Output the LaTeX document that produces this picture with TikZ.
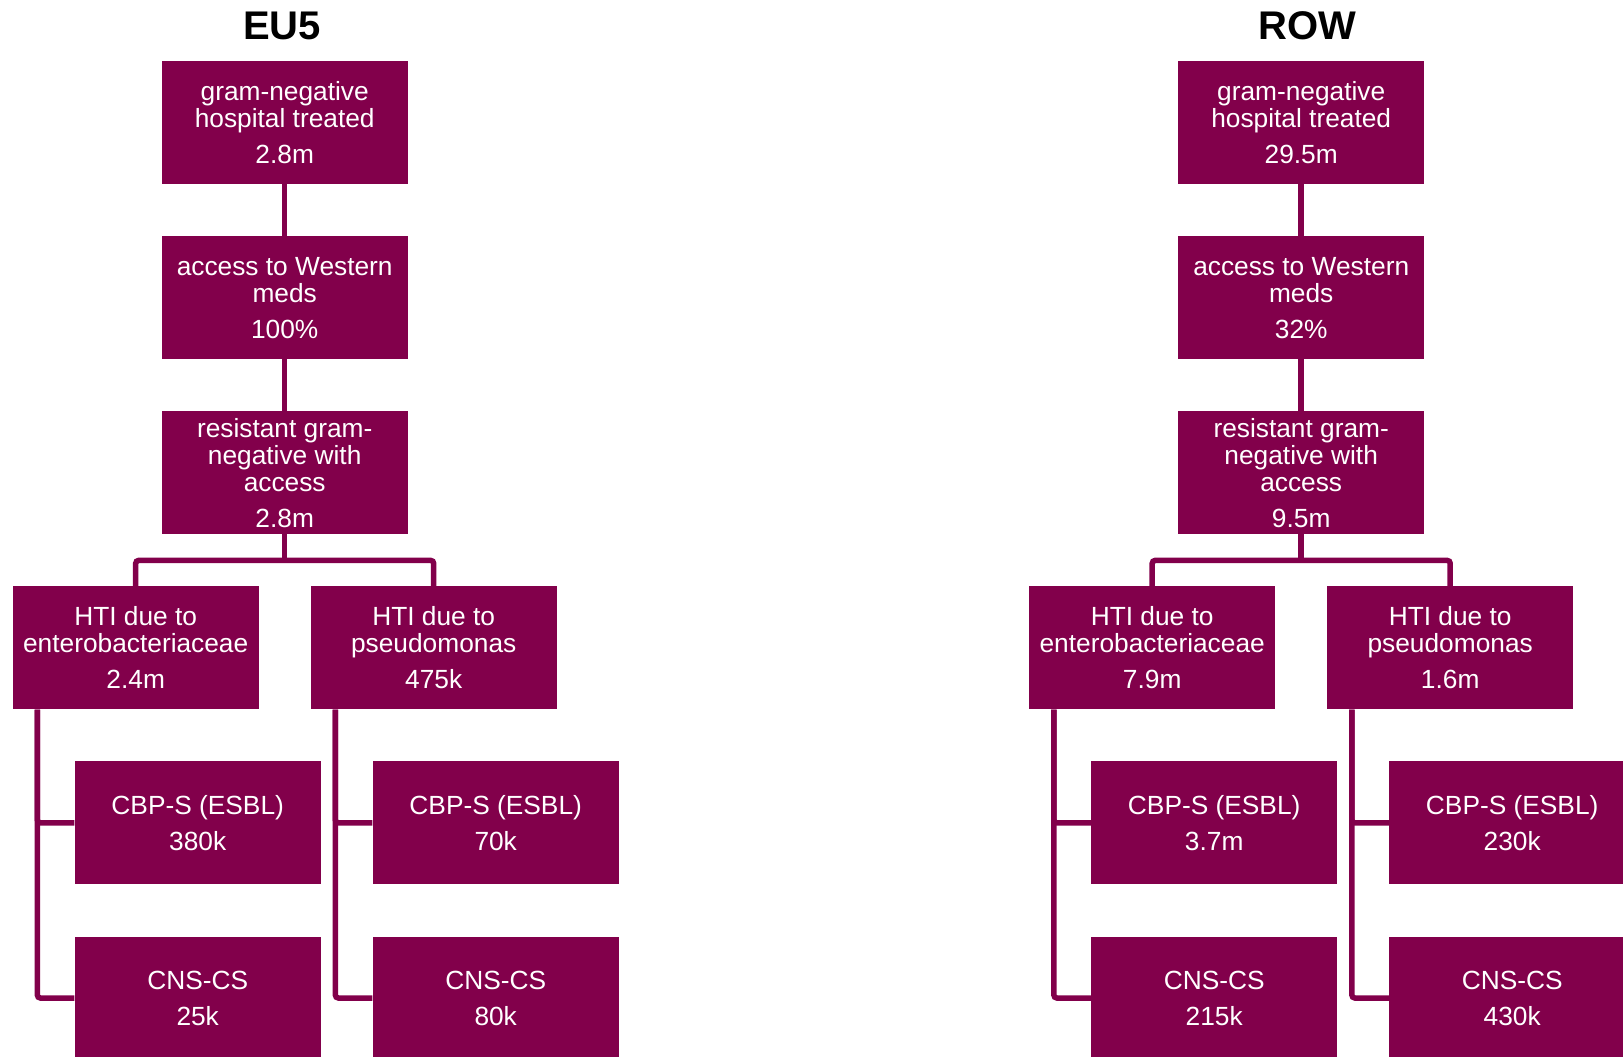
\documentclass[tikz,border=0pt]{standalone}
\usepackage{fontspec}
\setmainfont{Liberation Sans}
\usepackage{tikz}
\usetikzlibrary{positioning}
\definecolor{plum}{RGB}{130,0,75}

\begin{document}
\begin{tikzpicture}[
		x=1pt, y=1pt
		,box/.style={fill=plum, text=white, inner sep=0pt, minimum width=246.3pt, minimum height=123pt, align=center, font=\fontsize{26.3}{27}\selectfont}
		,link/.style={draw=plum, line width=5.5pt, rounded corners=3pt}
		,region/.style={font=\fontsize{40}{42}\selectfont\bfseries}
	]
		\useasboundingbox (0,0) rectangle (1623,-1057);

		% EU5
		\node [region] (eTitle) at (282,-25.5) {EU5};
		\node [box] (eTop) at (284.7,-122.5) {gram-negative\\hospital treated\\[9pt]2.8m};
		\node [box, below=51.7pt of eTop] (eAccess) {access to Western\\meds\\[9pt]100\%};
		\node [box, below=51.7pt of eAccess] (eRes) {resistant gram-\\negative with\\access\\[9pt]2.8m};
		\node [box, below=51.7pt of eRes, xshift=-149pt] (eEntero) {HTI due to\\enterobacteriaceae\\[9pt]2.4m};
		\node [box, below=51.7pt of eRes, xshift=149pt] (ePseudo) {HTI due to\\pseudomonas\\[9pt]475k};
		\node [box, below=51.7pt of eEntero, xshift=62pt] (eEnCbp) {CBP-S (ESBL)\\[9pt]380k};
		\node [box, below=51.7pt of eEnCbp] (eEnCns) {CNS-CS\\[9pt]25k};
		\node [box, below=51.7pt of ePseudo, xshift=62pt] (ePsCbp) {CBP-S (ESBL)\\[9pt]70k};
		\node [box, below=51.7pt of ePsCbp] (ePsCns) {CNS-CS\\[9pt]80k};
		\coordinate [below=26pt of eRes.south] (eFork);

		\draw [link] (eTop) -- (eAccess);
		\draw [link] (eAccess) -- (eRes);
		\draw [link] (eRes) -- (eFork);
		\draw [link] (eEntero) |- (eFork) -| (ePseudo);
		\draw [link] ([xshift=25pt]eEntero.south west) |- (eEnCbp.west);
		\draw [link] ([xshift=25pt]eEntero.south west) |- (eEnCns.west);
		\draw [link] ([xshift=25pt]ePseudo.south west) |- (ePsCbp.west);
		\draw [link] ([xshift=25pt]ePseudo.south west) |- (ePsCns.west);

		% ROW
		\node [region] (rTitle) at (1307.5,-25.5) {ROW};
		\node [box] (rTop) at (1301.2,-122.5) {gram-negative\\hospital treated\\[9pt]29.5m};
		\node [box, below=51.7pt of rTop] (rAccess) {access to Western\\meds\\[9pt]32\%};
		\node [box, below=51.7pt of rAccess] (rRes) {resistant gram-\\negative with\\access\\[9pt]9.5m};
		\node [box, below=51.7pt of rRes, xshift=-149pt] (rEntero) {HTI due to\\enterobacteriaceae\\[9pt]7.9m};
		\node [box, below=51.7pt of rRes, xshift=149pt] (rPseudo) {HTI due to\\pseudomonas\\[9pt]1.6m};
		\node [box, below=51.7pt of rEntero, xshift=62pt] (rEnCbp) {CBP-S (ESBL)\\[9pt]3.7m};
		\node [box, below=51.7pt of rEnCbp] (rEnCns) {CNS-CS\\[9pt]215k};
		\node [box, below=51.7pt of rPseudo, xshift=62pt] (rPsCbp) {CBP-S (ESBL)\\[9pt]230k};
		\node [box, below=51.7pt of rPsCbp] (rPsCns) {CNS-CS\\[9pt]430k};
		\coordinate [below=26pt of rRes.south] (rFork);

		\draw [link] (rTop) -- (rAccess);
		\draw [link] (rAccess) -- (rRes);
		\draw [link] (rRes) -- (rFork);
		\draw [link] (rEntero) |- (rFork) -| (rPseudo);
		\draw [link] ([xshift=25pt]rEntero.south west) |- (rEnCbp.west);
		\draw [link] ([xshift=25pt]rEntero.south west) |- (rEnCns.west);
		\draw [link] ([xshift=25pt]rPseudo.south west) |- (rPsCbp.west);
		\draw [link] ([xshift=25pt]rPseudo.south west) |- (rPsCns.west);
	\end{tikzpicture}
\end{document}
